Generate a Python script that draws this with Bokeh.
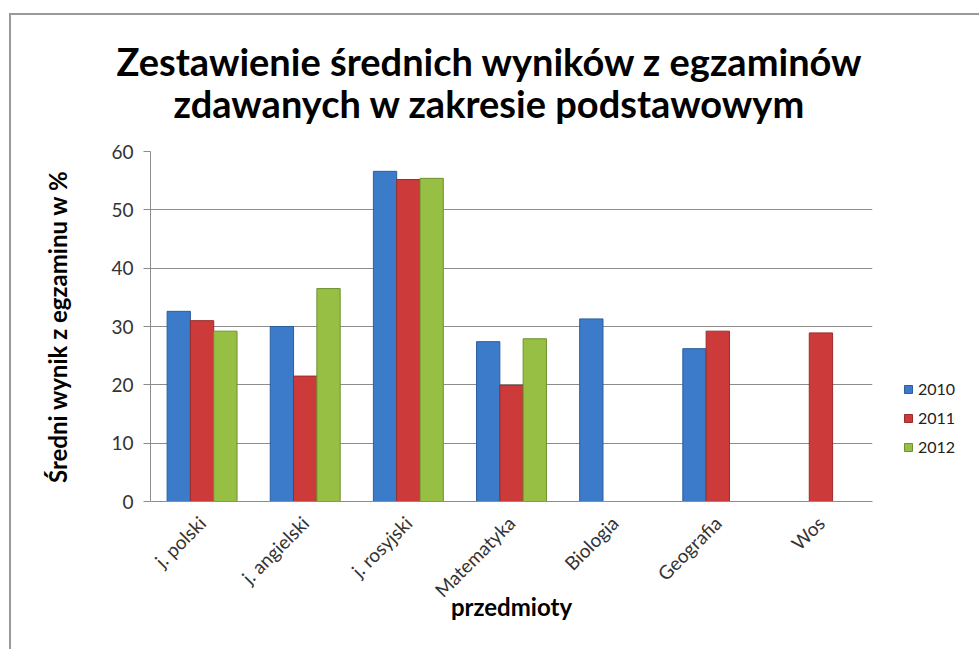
import math
from bokeh.plotting import figure
from bokeh.models import (ColumnDataSource, FactorRange, Range1d, Legend, LegendItem,
                          Title, SingleIntervalTicker)
from bokeh.transform import dodge
from bokeh.embed import file_html
from bokeh.resources import INLINE

categories = ["j. polski", "j. angielski", "j. rosyjski", "Matematyka", "Biologia", "Geografia", "Wos"]
years = ["2010", "2011", "2012"]
values_2010 = [32.6, 30.0, 56.6, 27.4, 31.3, 26.2, None]
values_2011 = [31.0, 21.5, 55.2, 19.9, None, 29.2, 28.9]
values_2012 = [29.2, 36.5, 55.4, 27.9, None, None, None]
colors = ["#3B7BC9", "#CC3B3A", "#96BF43"]
edge_colors = ["#2C5E9E", "#9A2B2A", "#6F9130"]

title_line1 = "Zestawienie średnich wyników z egzaminów"
title_line2 = "zdawanych w zakresie podstawowym"
y_label = "Średni wynik z egzaminu w %"
x_label = "przedmioty"

FONT = "Lato"

p = figure(x_range=FactorRange(*categories), y_range=Range1d(0, 60),
           frame_width=722, frame_height=350,
           min_border_left=139, min_border_right=95, min_border_top=136, min_border_bottom=150,
           output_backend="svg", toolbar_location=None, title=title_line1)
p.styles = {"margin-left": "11px", "margin-top": "15px",
            "box-shadow": "-2px -2px 0px 0px #9A9A9A"}

p.title.text_font = FONT
p.title.text_font_size = "38px"
p.title.text_font_style = "bold"
p.title.align = "left"
p.title.offset = -34
p.title.text_color = "#000000"
p.title.standoff = -63
t2 = Title(text=title_line2, align="left", offset=23, text_font=FONT, text_font_size="38px",
           text_font_style="bold", text_color="#000000", standoff=51)
p.add_layout(t2, "above")

series = [values_2010, values_2011, values_2012]
offsets = [-0.226, 0.0, 0.226]
items = []
for yr, vals, col, ec, off in zip(years, series, colors, edge_colors, offsets):
    xs = [c for c, v in zip(categories, vals) if v is not None]
    ys = [v for v in vals if v is not None]
    src = ColumnDataSource(dict(x=xs, top=ys))
    r = p.vbar(x=dodge("x", off, range=p.x_range), top="top", bottom=0, width=0.226,
               source=src, fill_color=col, line_color=ec, line_width=1)
    items.append(LegendItem(label=yr, renderers=[r]))

legend = Legend(items=items, location=(31, 45), glyph_width=10, glyph_height=10,
                label_text_font=FONT, label_text_font_size="16px", label_text_color="#222222",
                spacing=10, border_line_color=None, background_fill_alpha=0,
                label_standoff=5, padding=0, margin=0)
p.add_layout(legend, "right")

p.yaxis.ticker = SingleIntervalTicker(interval=10)
p.yaxis.axis_label = y_label
p.xaxis.axis_label = x_label
for ax in [p.xaxis, p.yaxis]:
    ax.axis_label_text_font = FONT
    ax.axis_label_text_font_size = "24px"
    ax.axis_label_text_font_style = "bold"
    ax.axis_label_text_color = "#000000"
    ax.major_label_text_font = FONT
    ax.major_label_text_font_size = "19px"
    ax.major_label_text_color = "#333333"
    ax.axis_line_color = "#8C8C8C"
    ax.major_tick_line_color = "#8C8C8C"
    ax.minor_tick_line_color = None
p.yaxis.major_tick_out = 7
p.yaxis.major_tick_in = 0
p.yaxis.major_label_standoff = 10
p.yaxis.axis_label_standoff = 36
p.xaxis.major_tick_out = 0
p.xaxis.major_tick_in = 0
p.xaxis.major_label_orientation = math.pi / 4
p.xaxis.major_label_standoff = 18
p.xaxis.axis_label_standoff = -20

p.xgrid.grid_line_color = None
p.ygrid.grid_line_color = "#8C8C8C"
p.ygrid.grid_line_width = 1
p.outline_line_color = None
p.background_fill_color = "white"
p.border_fill_color = "white"

open("out.html", "w").write(file_html(p, INLINE))
